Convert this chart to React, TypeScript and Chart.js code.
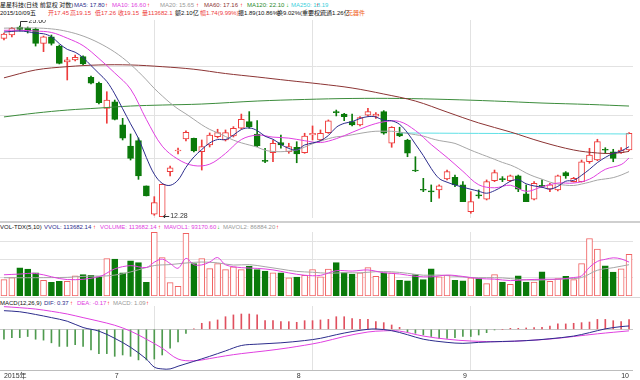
import React, { useEffect, useRef } from "react";
import { Chart, registerables } from "chart.js";
Chart.register(...registerables);

const FONT = '"Liberation Sans", Arial, "Noto Sans CJK SC", sans-serif';

const dates = [
  "06-10","06-11","06-12","06-15","06-16","06-17","06-18","06-19","06-23","06-24","06-25","06-26","06-29","06-30",
  "07-01","07-02","07-03","07-06","07-07","07-08","07-09","07-10","07-13","07-14","07-15","07-16","07-17","07-20","07-21","07-22","07-23","07-24","07-27","07-28","07-29","07-30","07-31",
  "08-03","08-04","08-05","08-06","08-07","08-10","08-11","08-12","08-13","08-14","08-17","08-18","08-19","08-20","08-21","08-24","08-25","08-26","08-27","08-28","08-31",
  "09-01","09-02","09-07","09-08","09-09","09-10","09-11","09-14","09-15","09-16","09-17","09-18","09-21","09-22","09-23","09-24","09-25","09-28","09-29","09-30",
  "10-08","10-09"
];
const tickIndex = [0, 14, 37, 58, 78];
const tickText = ["2015年", "7", "8", "9", "10"];

const openP = [24.74,24.97,25.53,25.46,25.37,24.39,24.85,24.20,23.09,23.23,23.46,22.02,21.60,19.85,20.31,18.69,17.22,17.59,14.43,12.45,
  12.28,15.43,16.87,17.71,17.76,16.82,17.29,17.87,17.64,17.92,18.46,18.92,18.06,16.20,16.75,17.45,16.82,17.13,16.75,17.99,
  17.64,18.15,19.59,19.45,18.92,18.69,19.38,19.31,19.62,17.41,18.11,17.64,15.52,14.18,14.06,14.15,14.92,15.03,14.50,12.63,
  13.78,13.50,14.80,14.92,14.80,15.13,13.87,13.50,14.45,14.20,14.15,15.36,14.73,14.73,16.12,16.24,16.97,16.82,16.75,16.94];
const highP = [25.11,25.51,25.60,25.53,25.46,24.90,24.97,24.27,23.41,23.57,23.51,22.11,21.69,21.01,20.43,19.15,18.06,17.78,14.43,13.68,
  14.55,15.82,17.08,18.27,17.78,17.64,18.13,18.39,18.34,18.57,19.45,19.62,18.99,17.06,17.64,17.99,17.41,17.52,18.11,18.62,
  18.34,19.04,19.73,19.50,19.45,19.27,19.85,19.55,19.69,18.57,18.53,17.69,16.47,14.96,14.50,14.50,15.54,15.19,14.73,14.03,
  14.15,14.85,15.54,15.08,15.19,15.19,14.50,14.73,14.85,14.62,15.19,15.43,15.03,16.24,17.06,17.69,17.10,16.99,17.10,18.15];
const lowP = [24.62,24.83,25.25,25.11,24.20,23.81,24.27,22.95,21.83,23.16,22.88,21.55,20.15,18.81,19.04,17.64,16.24,14.89,13.73,12.38,
  12.28,15.13,16.66,17.57,16.80,15.54,17.15,17.78,17.57,17.85,18.41,18.46,17.17,16.05,16.12,17.06,16.71,16.05,16.71,17.64,
  17.59,18.10,19.32,18.99,18.62,18.62,19.31,19.15,18.04,17.13,17.87,16.47,15.43,14.03,13.33,13.57,14.85,14.38,13.33,12.52,
  13.57,13.45,14.73,14.73,14.73,14.03,13.33,13.45,14.34,14.03,14.08,14.96,14.70,14.70,16.01,16.19,16.71,16.12,16.70,16.90];
const closeP = [25.04,25.44,25.36,25.25,24.39,24.85,24.39,22.99,23.23,23.41,22.95,21.60,20.24,20.43,19.08,17.76,16.36,15.13,13.73,13.26,
  14.55,15.70,16.94,18.18,16.87,17.17,17.99,18.15,18.15,18.46,19.08,18.57,17.22,16.15,17.41,17.29,17.17,16.66,17.92,18.11,
  18.11,18.97,19.55,19.27,18.69,19.20,19.62,19.45,18.11,18.53,17.92,16.71,15.47,14.13,14.01,14.43,15.43,14.50,13.33,13.33,
  13.73,14.73,15.36,14.87,15.13,14.20,13.33,14.62,14.40,14.50,15.13,15.13,14.96,16.12,16.59,17.52,16.92,16.36,16.94,18.11];

const ma5 = [25.18,25.22,25.25,25.20,25.10,25.06,24.85,24.37,23.97,23.77,23.39,22.84,22.29,21.73,20.86,19.82,18.77,17.75,16.41,15.25,
  14.61,14.47,14.84,15.73,16.45,16.97,17.43,17.67,17.67,17.98,18.37,18.48,18.30,17.90,17.69,17.33,17.05,16.94,17.29,17.43,
  17.59,17.95,18.53,18.80,18.92,19.14,19.27,19.25,19.01,18.98,18.73,18.14,17.35,16.55,15.65,14.95,14.69,14.50,14.34,14.20,
  14.06,13.92,14.10,14.40,14.76,14.86,14.58,14.43,14.34,14.21,14.40,14.76,14.82,15.17,15.59,16.06,16.42,16.70,16.87,17.17];
const ma10 = [25.30,null,25.30,null,25.25,null,25.15,null,24.75,null,24.23,null,23.33,null,22.32,null,21.20,null,19.07,null,
  17.21,null,16.29,null,15.85,null,15.95,null,16.70,null,17.67,null,17.98,null,17.84,null,17.77,null,17.59,null,
  17.46,null,17.73,null,18.17,null,18.61,null,18.91,null,18.93,null,18.30,null,17.32,null,16.42,null,15.45,null,
  14.51,null,14.30,null,14.48,null,14.05,null,14.37,null,14.63,null,14.63,null,14.90,null,15.59,null,15.92,16.38];
const ma20 = [25.45,25.46,25.47,25.47,25.46,25.44,25.40,25.33,25.22,25.08,24.90,24.68,24.42,24.12,23.78,23.38,22.92,22.40,21.84,21.24,
  20.72,20.23,19.81,19.46,19.08,18.70,18.38,18.14,17.88,17.63,17.44,17.29,17.14,16.92,16.84,16.82,16.86,16.93,17.14,17.38,
  17.56,17.73,17.86,17.91,18.00,18.10,18.19,18.25,18.25,18.25,18.19,18.10,18.01,17.91,17.74,17.60,17.51,17.40,17.17,16.93,
  16.71,16.50,16.29,16.07,15.89,15.64,15.33,15.09,14.90,14.70,14.56,14.48,14.46,14.56,14.69,14.84,14.92,15.01,15.19,15.43];
const ma60 = [21.98,null,null,null,22.53,null,null,null,22.76,null,null,null,22.88,null,null,null,22.88,null,null,null,
  22.76,null,null,null,22.58,null,null,null,22.28,null,null,null,22.04,null,null,null,21.79,null,null,null,
  21.55,null,null,null,21.27,null,null,null,20.85,null,null,null,20.36,null,null,null,19.59,null,null,null,
  18.83,null,null,null,18.20,null,null,null,17.50,null,null,null,16.94,null,null,16.73,null,16.70,null,16.84];
const ma120 = [19.25,null,null,null,19.52,null,null,null,19.73,null,null,null,19.87,null,null,null,20.01,null,null,null,
  20.08,null,null,null,null,20.15,null,null,null,null,null,null,20.36,null,null,null,null,null,20.47,null,
  null,null,null,null,20.54,null,null,null,null,null,20.54,null,null,null,null,null,20.47,null,null,null,
  null,null,20.36,null,null,null,null,null,20.22,null,null,null,null,null,20.12,null,null,null,null,20.01];
const ma250 = [null,null,null,null,null,null,null,null,null,null,null,null,null,null,null,null,null,null,null,null,
  null,null,null,null,null,null,null,null,null,null,null,null,null,null,null,null,null,null,null,null,
  null,null,null,null,null,null,null,null,null,null,18.13,null,null,null,null,null,null,null,null,null,
  18.10,null,null,null,null,null,null,null,null,null,18.08,null,null,null,null,null,null,null,null,18.06];

const volume = [44800,50300,76900,73300,63200,43100,37600,40400,40400,54900,58500,56800,52200,102400,100800,63200,96100,91400,37600,173800,
  105200,36500,26600,171100,88700,102400,75000,88700,72200,79600,72200,81600,72200,67800,63200,63200,49400,51400,56800,72200,
  52200,73300,91400,64000,59600,63200,77700,54100,63200,63200,43100,41200,58500,44800,74100,52200,56800,43100,41200,49400,
  47500,33800,58500,38400,32100,54900,38400,38400,65900,40400,47500,54100,44800,88700,157300,128200,82400,65100,74100,113682];
const mavol1 = [58000,null,60000,null,61700,null,null,null,44940,null,null,null,52560,null,74140,null,82940,null,77820,92420,
  100820,88900,75940,102640,85620,85060,92760,105180,85400,null,77540,null,75560,null,71400,null,63160,null,56800,null,
  56400,null,69180,null,68100,null,71180,null,63560,null,60260,null,53840,null,52340,null,57280,null,53480,null,
  47600,null,46080,null,42060,null,44460,null,45940,null,46120,null,50540,55100,78480,94620,100280,104340,101420,92696];
const mavol2 = [50000,null,null,null,50000,null,null,null,51000,52490,null,54510,null,54950,null,60720,null,71670,null,83280,
  null,85920,null,90230,null,92940,null,90560,null,84600,null,85810,null,80040,null,73570,null,67280,null,65000,
  null,62170,null,63710,null,63350,null,66450,null,66190,null,62070,null,56860,null,57210,null,54020,null,50440,
  null,50140,null,49500,null,45570,null,43260,null,44830,null,46860,null,50520,null,70370,null,77440,null,85588];

const macdHist = [-1.1,-0.93,-0.93,-0.8,-1.1,-1.2,-1.5,-1.9,-1.9,-1.7,-1.9,-2.3,-2.7,-2.7,-3.0,-2.85,-3.0,-3.4,-3.4,-3.3,
  -2.85,-2.1,-1.4,-0.45,0.05,0.67,0.85,1.04,1.4,1.6,1.7,1.7,1.6,0.96,0.96,0.85,0.85,0.78,0.96,0.96,
  1.04,1.1,1.4,1.4,1.2,1.1,1.1,0.85,0.74,0.48,0.22,-0.26,-0.44,-0.63,-0.8,-1.0,-1.0,-0.93,-0.8,-0.8,
  -0.63,-0.37,-0.07,0.0,0.11,0.11,0.15,0.19,0.22,0.37,0.6,0.6,0.67,0.74,0.81,1.1,1.1,0.96,0.85,1.09];
const dif = [2.07,null,1.95,null,1.65,null,1.3,null,0.9,null,0.2,null,-0.2,null,-1.0,null,-2.0,null,-3.3,-4.2,
  -4.4,-4.4,-4.1,null,-3.56,null,-3.0,null,-2.4,null,-1.8,null,-1.65,null,null,-1.5,null,null,-1.25,null,
  -1.0,null,-0.6,null,-0.25,null,0.0,0.04,null,-0.15,null,-0.6,null,-1.1,null,null,-1.45,null,-1.56,null,
  -1.45,null,null,-1.35,null,null,-1.26,null,null,-1.05,null,null,-0.75,null,-0.37,null,0.05,null,0.3,0.37];
const dea = [2.52,null,2.4,null,2.25,null,2.0,null,1.7,null,1.3,null,0.9,null,0.45,null,-0.2,null,-1.1,null,
  -2.1,null,-3.3,null,-3.5,null,-3.25,null,-2.95,null,-2.7,null,null,-2.4,null,null,-2.05,null,null,null,
  -1.45,null,null,-0.8,null,null,-0.3,null,-0.17,null,-0.2,null,null,-0.75,null,null,-1.1,null,null,-1.3,
  null,null,null,-1.37,null,null,-1.25,null,null,-1.08,null,null,-0.8,null,null,-0.5,null,null,null,-0.17];

const priceGrid = [22.74, 19.38, 16.38];
const volGrid = [50000, 100000, 150000];
const macdGrid = [0];
const vGridIndex = [19, 39, 59];

const RED = "#ee3b3b";
const GREEN = "#0a7a0a";
const VRED = "#f06262";
const C5 = "#2c2c8c", C10 = "#e040e0", C20 = "#a6a6a6", C60 = "#8c3434", C120 = "#3c8c3c", C250 = "#5fe0e6";
const GRID = "#e2e2e2";

const W = 633;

function makeScales(yMin: number, yMax: number, yGrid: number[], xLabels: boolean, zeroDark = false): any {
  return {
    x: {
      type: "category",
      offset: true,
      grid: {
        offset: false,
        drawTicks: false,
        color: (c: any) => (vGridIndex.includes(c.index) ? GRID : "rgba(0,0,0,0)"),
      },
      border: { display: xLabels, color: "#bdbdbd" },
      ticks: {
        display: xLabels,
        autoSkip: false,
        maxRotation: 0,
        minRotation: 0,
        align: "start",
        padding: 2,
        color: "#333",
        font: { size: 7, family: FONT },
        callback: (_v: any, i: number) => {
          const k = tickIndex.indexOf(i);
          return k >= 0 ? tickText[k] : "";
        },
      },
      afterFit: (s: any) => {
        s.height = xLabels ? 10 : 0;
      },
    },
    y: {
      min: yMin,
      max: yMax,
      grid: { drawTicks: false, color: (c: any) => (zeroDark && c.tick && c.tick.value === 0 ? "#c8c8c8" : GRID) },
      border: { display: false },
      ticks: { display: false },
      afterBuildTicks: (s: any) => {
        s.ticks = yGrid.map((v) => ({ value: v }));
      },
      afterFit: (s: any) => {
        s.width = 0;
      },
    },
  };
}

const baseOpts = {
  responsive: false,
  animation: false as const,
  events: [] as any[],
  layout: { padding: 0 },
  plugins: { legend: { display: false }, tooltip: { enabled: false }, title: { display: false } },
};

const extremaPlugin = {
  id: "extrema",
  afterDatasetsDraw(chart: any) {
    const { ctx, scales } = chart;
    const x = scales.x, y = scales.y;
    const hi = Math.max(...highP);
    const hiI = highP.indexOf(hi);
    const lo = Math.min(...lowP);
    const loI = lowP.indexOf(lo);
    ctx.save();
    ctx.strokeStyle = "#333";
    ctx.fillStyle = "#333";
    ctx.lineWidth = 1;
    ctx.font = `7px ${FONT}`;
    ctx.textBaseline = "middle";
    const hx = Math.round(x.getPixelForValue(hiI)) + 0.5;
    const hy = Math.round(y.getPixelForValue(hi)) + 0.5;
    ctx.beginPath();
    ctx.moveTo(hx, hy);
    ctx.lineTo(hx, hy - 5);
    ctx.lineTo(hx + 7, hy - 5);
    ctx.stroke();
    ctx.fillText(hi.toFixed(2), hx + 8, hy - 5);
    const lx = x.getPixelForValue(loI) + 1;
    const ly = Math.round(y.getPixelForValue(lo)) - 0.5;
    ctx.beginPath();
    ctx.moveTo(lx, ly);
    ctx.lineTo(lx + 6, ly);
    ctx.moveTo(lx, ly);
    ctx.lineTo(lx + 2.5, ly - 2);
    ctx.moveTo(lx, ly);
    ctx.lineTo(lx + 2.5, ly + 2);
    ctx.stroke();
    ctx.fillText(lo.toFixed(2), lx + 7, ly);
    ctx.restore();
  },
};

const lineDs = (label: string, data: any[], color: string, order: number) => ({
  type: "line" as const,
  label,
  data,
  borderColor: color,
  borderWidth: 1,
  pointRadius: 0,
  tension: 0.35,
  spanGaps: true,
  order,
});

type Seg = [number, string, string];
const line1: Seg[] = [
  [0, "星星科技(日线 前复权 对数)", "#111"],
  [74, "MA5: 17.80", C5], [105, "↑", "#f00"],
  [112, "MA10: 16.60", C10], [147, "↑", "#f00"],
  [160, "MA20: 15.65", "#999"], [196, "↑", "#f00"],
  [204, "MA60: 17.16", C60], [240, "↑", "#f00"],
  [247, "MA120: 22.10", "#2a8a2a"], [286, "↓", "#0a0"],
  [291, "MA250: 18.19", "#3cd0dc"], [316, "↑", "#f00"],
];
const line2: Seg[] = [
  [0, "2015/10/09五", "#111"],
  [48, "开17.45", RED], [70, "高19.15", RED], [95, "低17.26", RED], [118, "收19.15", RED],
  [142, "量113682.1", RED], [175, "额2.10亿", "#111"], [200, "幅1.74(9.99%)", RED],
  [238, "振1.89(10.86%)", "#111"], [277, "换9.02%(重要权)", "#111"], [320, "流通1.26亿", "#111"],
  [347, "元器件", "#f06020"],
];
const volHead: Seg[] = [
  [0, "VOL-TDX(5,10)", "#111"], [44, "VVOL: 113682.14", C5], [93, "↑", "#f00"],
  [100, "VOLUME: 113682.14", C10], [158, "↑", "#f00"],
  [164, "MAVOL1: 93170.60", C10], [217, "↓", "#0a0"],
  [223, "MAVOL2: 86884.20", "#999"], [276, "↑", "#f00"],
];
const macdHead: Seg[] = [
  [0, "MACD(12,26,9)", "#111"], [44, "DIF: 0.37", C5], [70, "↑", "#f00"],
  [77, "DEA: -0.17", C10], [107, "↑", "#f00"],
  [113, "MACD: 1.09", "#999"], [146, "↑", "#f00"],
];

function TextRow({ segs, top }: { segs: Seg[]; top: number }) {
  return (
    <>
      {segs.map(([x, t, c], i) => (
        <span
          key={i}
          style={{
            position: "absolute",
            left: x,
            top,
            fontSize: 6,
            lineHeight: "8px",
            color: c,
            whiteSpace: "pre",
            fontFamily: FONT,
          }}
        >
          {t}
        </span>
      ))}
    </>
  );
}

export default function App() {
  const priceRef = useRef<HTMLCanvasElement>(null);
  const volRef = useRef<HTMLCanvasElement>(null);
  const macdRef = useRef<HTMLCanvasElement>(null);

  useEffect(() => {
    const up = closeP.map((c, i) => c >= openP[i]);
    const charts: Chart[] = [];

    charts.push(
      new Chart(priceRef.current!, {
        type: "bar",
        data: {
          labels: dates,
          datasets: [
            lineDs("MA5", ma5, C5, 0),
            lineDs("MA10", ma10, C10, 1),
            lineDs("MA20", ma20, C20, 2),
            lineDs("MA60", ma60, C60, 3),
            lineDs("MA120", ma120, C120, 4),
            lineDs("MA250", ma250, C250, 5),
            {
              type: "bar",
              label: "body",
              data: openP.map((o, i) => [o, closeP[i]]) as any,
              backgroundColor: up.map((u) => (u ? "#ffffff" : GREEN)),
              borderColor: up.map((u) => (u ? RED : GREEN)),
              borderWidth: 1,
              borderSkipped: false,
              barThickness: 6,
              grouped: false,
              minBarLength: 1,
              order: 10,
            } as any,
            {
              type: "bar",
              label: "wick",
              data: lowP.map((l, i) => [l, highP[i]]) as any,
              backgroundColor: up.map((u) => (u ? RED : GREEN)),
              barThickness: 1,
              grouped: false,
              order: 11,
            } as any,
          ],
        },
        options: { ...baseOpts, scales: makeScales(12.19, 26.02, priceGrid, false) } as any,
        plugins: [extremaPlugin],
      })
    );

    charts.push(
      new Chart(volRef.current!, {
        type: "bar",
        data: {
          labels: dates,
          datasets: [
            lineDs("MAVOL1", mavol1, C10, 0),
            lineDs("MAVOL2", mavol2, C20, 1),
            {
              type: "bar",
              label: "VOLUME",
              data: volume,
              backgroundColor: up.map((u) => (u ? "#ffffff" : GREEN)),
              borderColor: up.map((u) => (u ? VRED : GREEN)),
              borderWidth: 1,
              borderSkipped: false,
              barThickness: 6,
              order: 10,
            } as any,
          ],
        },
        options: { ...baseOpts, scales: makeScales(0, 175000, volGrid, false) } as any,
      })
    );

    charts.push(
      new Chart(macdRef.current!, {
        type: "bar",
        data: {
          labels: dates,
          datasets: [
            lineDs("DIF", dif, C5, 0),
            lineDs("DEA", dea, C10, 1),
            {
              type: "bar",
              label: "MACD",
              data: macdHist,
              backgroundColor: macdHist.map((v) => (v >= 0 ? "#e0505f" : "#4e9a4e")),
              barThickness: 1,
              order: 10,
            } as any,
          ],
        },
        options: { ...baseOpts, scales: makeScales(-4.52, 2.59, macdGrid, true, true) } as any,
      })
    );

    return () => charts.forEach((c) => c.destroy());
  }, []);

  return (
    <div
      style={{
        position: "absolute",
        left: 0,
        top: 0,
        width: 640,
        height: 380,
        background: "#ffffff",
        overflow: "hidden",
      }}
    >
      <TextRow segs={line1} top={1} />
      <TextRow segs={line2} top={9} />
      <canvas ref={priceRef} width={W} height={198} style={{ position: "absolute", left: 0, top: 20 }} />
      <div style={{ position: "absolute", left: 0, top: 221, width: 640, height: 2, background: "#cfcfcf" }} />
      <TextRow segs={volHead} top={223} />
      <canvas ref={volRef} width={W} height={64} style={{ position: "absolute", left: 0, top: 232 }} />
      <div style={{ position: "absolute", left: 0, top: 297, width: 640, height: 1, background: "#d8d8d8" }} />
      <TextRow segs={macdHead} top={299} />
      <canvas ref={macdRef} width={W} height={74} style={{ position: "absolute", left: 0, top: 306 }} />
    </div>
  );
}
